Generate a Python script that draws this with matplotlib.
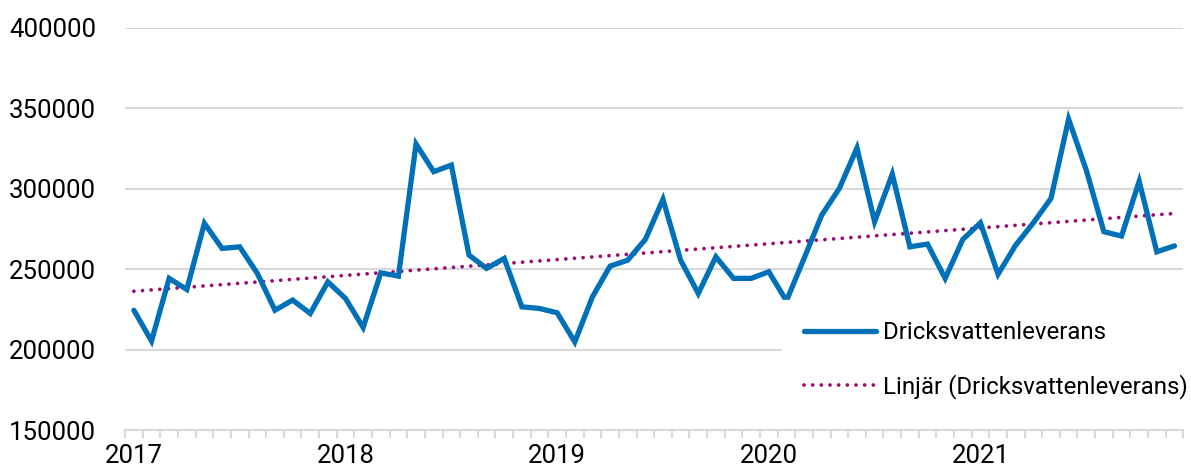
import numpy as np
import matplotlib.pyplot as plt

plt.rcParams['font.family'] = ['Roboto', 'DejaVu Sans']

# monthly drinking water delivery 2017-2021
years = ["2017", "2018", "2019", "2020", "2021"]
leverans = [
    224600, 205500, 244400, 237500, 278600, 263000, 264000, 247500, 224600, 230900, 222600, 242200,
    231900, 213900, 247800, 245800, 327900, 310700, 314800, 258900, 250600, 256800, 226700, 225700,
    223000, 204900, 232900, 252000, 255700, 268600, 293500, 255700, 235000, 257800, 244400, 244400,
    248500, 230400, 256800, 283700, 300300, 325400, 279600, 309200, 264000, 265700, 244400, 268600,
    278900, 247000, 265100, 278900, 294100, 343300, 311700, 273400, 270700, 304700, 260900, 264600,
]

x = np.arange(len(leverans))
k, m = np.polyfit(x, leverans, 1)
trend = k * x + m

fig = plt.figure(figsize=(11.91, 4.70), dpi=100)
ax = fig.add_axes([0.105, 0.0845, 0.8885, 0.856])

ax.plot(x, leverans, color='#0070B8', lw=3.8, solid_joinstyle='miter',
        solid_capstyle='round', label="Dricksvattenleverans", zorder=3)
ax.plot(x, trend, color='#9E0A73', lw=2.7, linestyle=(0, (0.01, 2.3)),
        dash_capstyle='round', label="Linjär (Dricksvattenleverans)", zorder=2)

ax.set_xlim(-0.5, len(leverans) - 0.5)
ax.set_ylim(150000, 400000)
ax.set_yticks(np.arange(150000, 400001, 50000))
ax.set_yticklabels([str(v) for v in range(150000, 400001, 50000)])
ax.grid(axis='y', color='#d9d9d9', lw=1.5)
ax.set_axisbelow(True)

ax.set_xticks(np.arange(0, len(leverans), 12))
ax.set_xticklabels(years)
ax.set_xticks(np.arange(-0.5, len(leverans), 1), minor=True)
ax.tick_params(axis='x', which='major', length=0, pad=10, labelsize=18.5, colors='black')
ax.tick_params(axis='x', which='minor', length=6, width=1.5, color='#d9d9d9')
ax.tick_params(axis='y', length=0, pad=21, labelsize=18.5)

for s in ['top', 'right', 'left']:
    ax.spines[s].set_visible(False)
ax.spines['bottom'].set_color('#d9d9d9')
ax.spines['bottom'].set_linewidth(1.5)

leg = ax.legend(loc='upper left', bbox_to_anchor=(0.621, 0.325), borderaxespad=0,
                fontsize=17.3, frameon=True, fancybox=False, edgecolor='white',
                facecolor='white', framealpha=1, handlelength=3.0, handletextpad=0.3,
                labelspacing=1.25, borderpad=0.9)
leg.set_zorder(5)

fig.savefig('out.png', dpi=100)
